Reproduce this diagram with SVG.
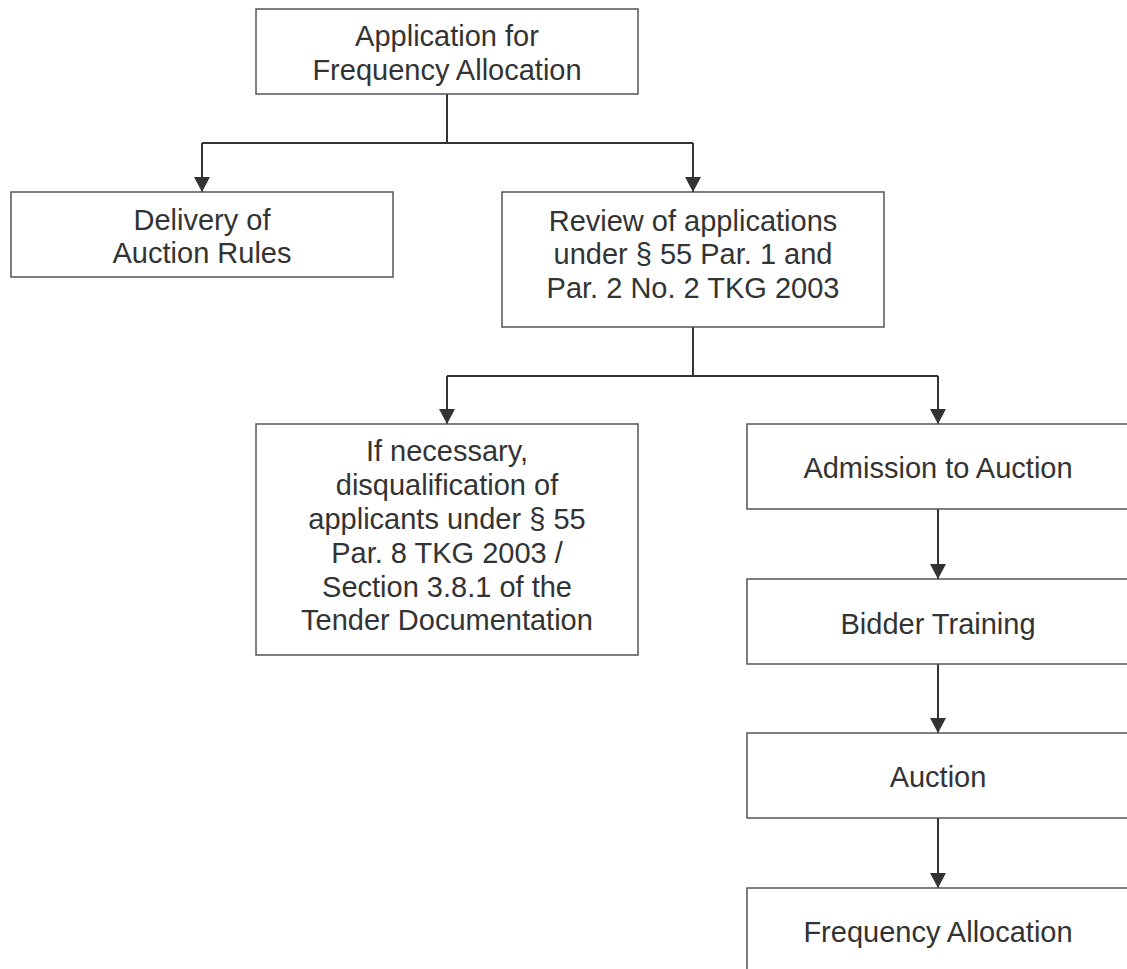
<svg xmlns="http://www.w3.org/2000/svg" width="1127" height="969" viewBox="0 0 1127 969">
  <style>
    .box { fill: #ffffff; stroke: #555555; stroke-width: 1.5; }
    .lbl { font-family: "Liberation Sans", Arial, sans-serif; font-size: 29px; fill: #333333; text-anchor: middle; }
    .conn { fill: none; stroke: #333333; stroke-width: 2; }
  </style>
  <defs>
    <marker id="arr" markerUnits="userSpaceOnUse" markerWidth="16" markerHeight="16" refX="15" refY="8" orient="auto" viewBox="0 0 16 16">
      <path d="M0,0 L15,8 L0,16 z" fill="#333333"/>
    </marker>
  </defs>
  <rect width="1127" height="969" fill="#ffffff"/>

  <g id="connectors">
    <path class="conn" d="M447,94 V143"/>
    <path class="conn" d="M202,143 H693"/>
    <path class="conn" d="M202,143 V192" marker-end="url(#arr)"/>
    <path class="conn" d="M693,143 V192" marker-end="url(#arr)"/>
    <path class="conn" d="M693,327 V376"/>
    <path class="conn" d="M447,376 H938"/>
    <path class="conn" d="M447,376 V424" marker-end="url(#arr)"/>
    <path class="conn" d="M938,376 V424" marker-end="url(#arr)"/>
    <path class="conn" d="M938,509 V579" marker-end="url(#arr)"/>
    <path class="conn" d="M938,664 V733" marker-end="url(#arr)"/>
    <path class="conn" d="M938,818 V888" marker-end="url(#arr)"/>
  </g>

  <g id="application">
    <rect class="box" x="256" y="9" width="382" height="85"/>
    <text class="lbl" x="447" y="46">Application for</text>
    <text class="lbl" x="447" y="80">Frequency Allocation</text>
  </g>

  <g id="delivery">
    <rect class="box" x="11" y="192" width="382" height="85"/>
    <text class="lbl" x="202" y="230">Delivery of</text>
    <text class="lbl" x="202" y="263">Auction Rules</text>
  </g>

  <g id="review">
    <rect class="box" x="502" y="192" width="382" height="135"/>
    <text class="lbl" x="693" y="231">Review of applications</text>
    <text class="lbl" x="693" y="264">under § 55 Par. 1 and</text>
    <text class="lbl" x="693" y="298">Par. 2 No. 2 TKG 2003</text>
  </g>

  <g id="disqualification">
    <rect class="box" x="256" y="424" width="382" height="231"/>
    <text class="lbl" x="447" y="461">If necessary,</text>
    <text class="lbl" x="447" y="495">disqualification of</text>
    <text class="lbl" x="447" y="529">applicants under § 55</text>
    <text class="lbl" x="447" y="563">Par. 8 TKG 2003 /</text>
    <text class="lbl" x="447" y="597">Section 3.8.1 of the</text>
    <text class="lbl" x="447" y="630">Tender Documentation</text>
  </g>

  <g id="admission">
    <rect class="box" x="747" y="424" width="382" height="85"/>
    <text class="lbl" x="938" y="478">Admission to Auction</text>
  </g>

  <g id="training">
    <rect class="box" x="747" y="579" width="382" height="85"/>
    <text class="lbl" x="938" y="634">Bidder Training</text>
  </g>

  <g id="auction">
    <rect class="box" x="747" y="733" width="382" height="85"/>
    <text class="lbl" x="938" y="787">Auction</text>
  </g>

  <g id="allocation">
    <rect class="box" x="747" y="888" width="382" height="85"/>
    <text class="lbl" x="938" y="942">Frequency Allocation</text>
  </g>
</svg>
